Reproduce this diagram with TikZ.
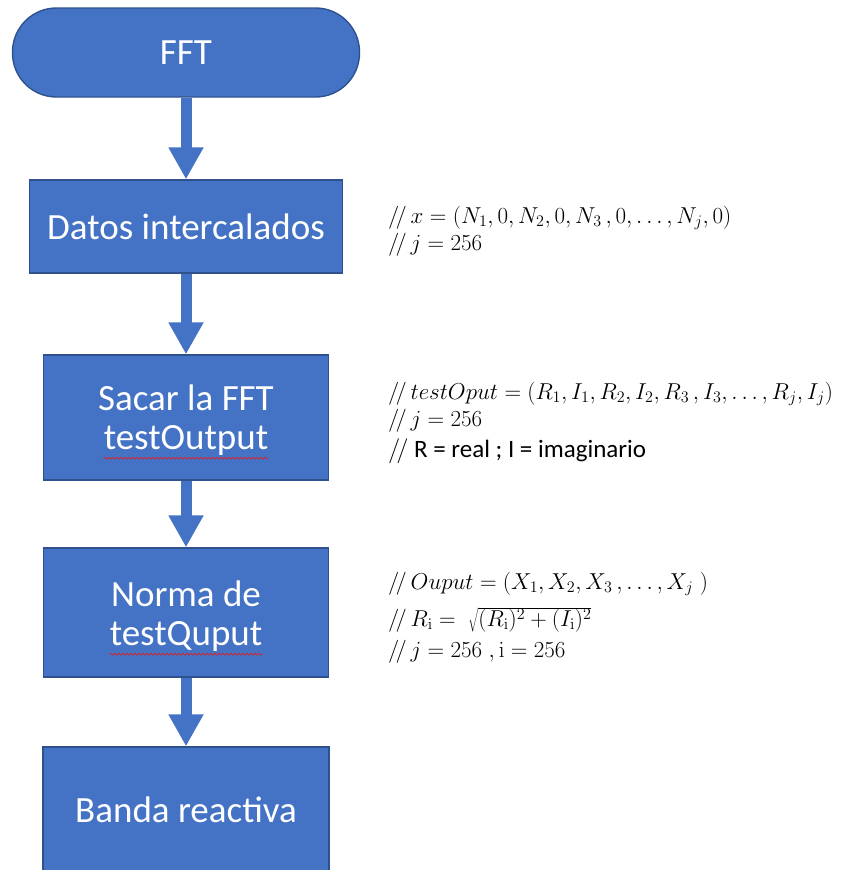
\RequirePackage{fix-cm}
\documentclass[tikz,border=0pt]{standalone}
\usepackage[no-math]{fontspec}
\setmainfont{Carlito}
\usetikzlibrary{arrows.meta,decorations.pathmorphing}
\definecolor{boxfill}{HTML}{4472C4}
\definecolor{boxline}{HTML}{2F528F}
\definecolor{squig}{HTML}{E02020}
\tikzset{
  stepbox/.style={draw=boxline, line width=1.4pt, fill=boxfill, inner sep=0pt},
  boxtext/.style={text=white, font=\fontsize{37}{40}\selectfont, inner sep=0pt},
  flow/.style={draw=boxfill, line width=11pt, -{Triangle[width=33pt,length=32pt]}},
  note/.style={anchor=base west, inner sep=0pt, font=\fontsize{23}{26}\selectfont},
  plain/.style={anchor=base west, inner sep=0pt, font=\fontsize{25}{28}\selectfont},
  wavy/.style={draw=squig, line width=0.7pt, decorate, decoration={snake, amplitude=0.9pt, segment length=4pt}}
}
\begin{document}
\begin{tikzpicture}[x=1pt,y=-1pt]
\clip (0,0) rectangle (846,870);
\fill[white] (0,0) rectangle (846,870);

% flowchart blocks, all centred on x = 186
\node[stepbox, rounded corners=44pt, minimum width=347pt, minimum height=89pt] (fft) at (186,52.5) {};
\node[boxtext] at (fft.center) {FFT};

\node[stepbox, minimum width=313pt, minimum height=93pt] (datos) at (186,226.5) {};
\node[boxtext] at (datos.center) {Datos intercalados};

\node[stepbox, minimum width=285pt, minimum height=125pt] (sacar) at (186,417.5) {};
\node[boxtext] (sacarA) at (186,398) {Sacar la FFT};
\node[boxtext] (sacarB) at (186,440) {testOutput};

\node[stepbox, minimum width=285pt, minimum height=129pt] (norma) at (186,612.5) {};
\node[boxtext] (normaA) at (186,594) {Norma de};
\node[boxtext] (normaB) at (186,636) {testQuput};

\node[stepbox, minimum width=286pt, minimum height=126pt] (banda) at (186,810) {};
\node[boxtext] at (banda.center) {Banda reactiva};

% spell-check underlines
\draw[wavy] ([yshift=-3pt]sacarB.south west) -- ([yshift=-3pt]sacarB.south east);
\draw[wavy] ([yshift=-3pt]normaB.south west) -- ([yshift=-3pt]normaB.south east);

% connectors
\draw[flow] (fft.south) -- (datos.north);
\draw[flow] (datos.south) -- (sacar.north);
\draw[flow] (sacar.south) -- (norma.north);
\draw[flow] (norma.south) -- (banda.north);

% comments beside the blocks
\node[note] (c1) at (388,223) {$/\!/\, x=\bigl(N_1,0,N_2,0,N_3\,,0,\ldots,N_j,0\bigr)$};
\node[note] (c2) at (388,250) {$/\!/\, j=256$};

\node[note] (c3) at (388,399) {$/\!/\, testOput=\bigl(R_1,I_1,R_2,I_2,R_3\,,I_3,\ldots,R_j,I_j\bigr)$};
\node[note] (c4) at (388,426) {$/\!/\, j=256$};
\node[plain] (c5) at (388,457) {$/\!/$ R = real ; I = imaginario};

\node[note] (c6) at (388,589) {$/\!/\, Ouput=\bigl(X_1,X_2,X_3\,,\ldots,X_j\;\bigr)$};
\node[note] (c7) at (388,626) {$/\!/\, R_{\mathrm{i}}=\;\sqrt{(R_{\mathrm{i}})^2+(I_{\mathrm{i}})^2}$};
\node[note] (c8) at (388,657) {$/\!/\, j=256\;,\mathrm{i}=256$};
\end{tikzpicture}
\end{document}
